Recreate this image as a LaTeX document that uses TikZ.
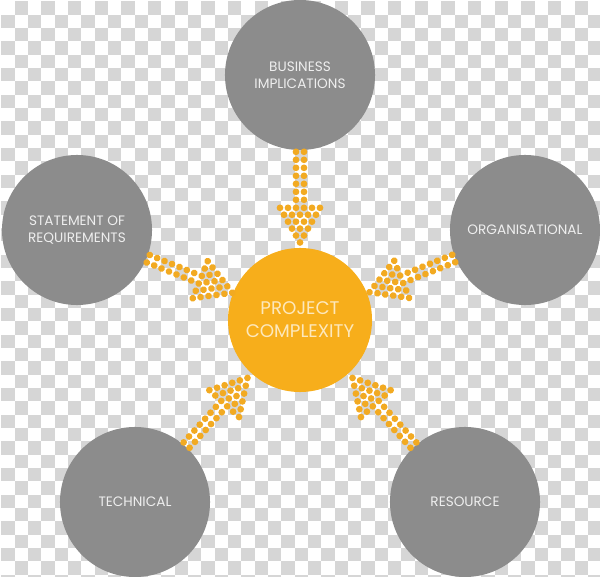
\documentclass[tikz,border=0pt]{standalone}
\usepackage{fontspec}
\setmainfont{Poppins}
\usepackage{tikz}
\usetikzlibrary{calc}

\definecolor{checkgray}{HTML}{D6D6D6}
\definecolor{circgray}{HTML}{8C8C8C}
\definecolor{pcorange}{HTML}{F7AE1B}
\definecolor{dotorange}{HTML}{F2AA22}
\definecolor{greytext}{HTML}{EEEEEE}
\definecolor{orangetext}{HTML}{FDE8BC}

\begin{document}
\begin{tikzpicture}[x=0.025cm,y=-0.025cm,
    outer/.style={circle,fill=circgray,minimum size=3.75cm,inner sep=0pt,
      align=center,text=greytext,font=\fontsize{9.7}{12}\selectfont},
    centre/.style={circle,fill=pcorange,minimum size=3.6cm,inner sep=0pt,
      align=center,text=orangetext,font=\fontsize{13}{16.5}\selectfont},
    dot/.style={fill=dotorange}]
    \useasboundingbox (0,0) rectangle (600,577);
    % checkerboard background
    \begin{scope}
      \clip (0,0) rectangle (600,577);
      \foreach \j in {0,...,44} {
        \pgfmathtruncatemacro\k{mod(\j+1,2)}
        \foreach \i in {0,...,23}
          \fill[checkgray] ({(2*\i+\k)*13.33+1.5},{\j*13.33+1.5}) rectangle ++(13.33,13.33);
      }
    \end{scope}
    % circles
    \node[centre] (pc) at (300,320) {PROJECT\\COMPLEXITY};
    \node[outer] (biz) at (300,75) {BUSINESS\\IMPLICATIONS};
    \node[outer] (sor) at (77,230) {STATEMENT OF\\REQUIREMENTS};
    \node[outer] (org) at (525,230) {ORGANISATIONAL};
    \node[outer] (tech) at (135,502) {TECHNICAL};
    \node[outer] (res) at (465,502) {RESOURCE};
    % dotted arrows
    \foreach \src in {biz,sor,org,tech,res} {
      \pgfmathanglebetweenpoints{\pgfpointanchor{\src}{center}}{\pgfpointanchor{pc}{center}}
      \let\ang\pgfmathresult
      \begin{scope}[shift={($(\src.center)!1.92cm!(pc.center)$)},rotate=\ang]
        \foreach \s in {0,8,...,48}
          \foreach \t in {-4,4}
            \fill[dot] (\s,\t) circle (2.4pt);
        \foreach \k in {0,...,5} {
          \pgfmathtruncatemacro\n{5-\k}
          \foreach \m in {0,...,\n}
            \fill[dot] ({56+6.93*\k},{8*\m-4*\n}) circle (2.4pt);
        }
      \end{scope}
    }
  \end{tikzpicture}
\end{document}
